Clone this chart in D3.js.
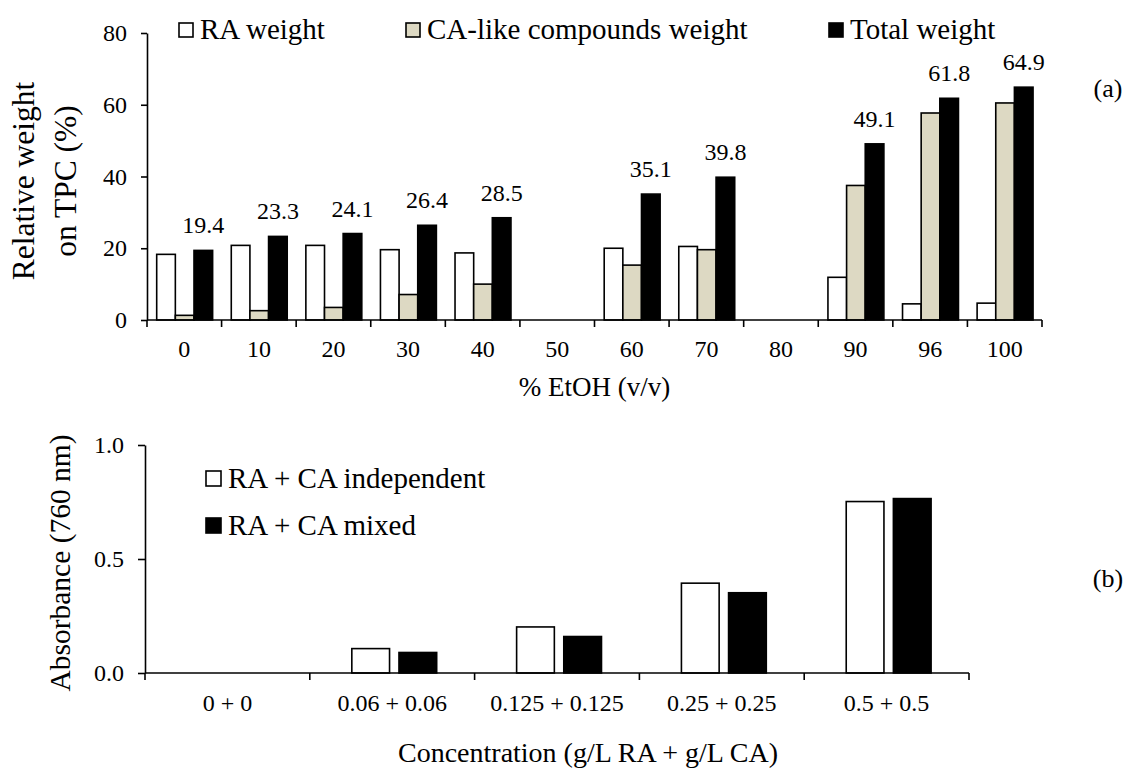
<!DOCTYPE html>
<html>
<head>
<meta charset="utf-8">
<script src="https://cdn.jsdelivr.net/npm/d3@7"></script>
<style>
  html, body { margin: 0; padding: 0; background: #fff; }
  svg { display: block; }
  svg text { font-family: "Liberation Serif", "Tinos", "Times New Roman", "DejaVu Serif", serif !important; fill: #000; }
</style>
</head>
<body>
<svg id="chart" width="1136" height="769" font-family="Liberation Serif, Tinos, Times New Roman, DejaVu Serif, serif"></svg>
<script>
// ---------- Data: panel (a) ----------
const etohCats    = ["0","10","20","30","40","50","60","70","80","90","96","100"];
const raWeight    = [18.3, 20.8, 20.8, 19.6, 18.7, null, 20.0, 20.5, null, 11.9, 4.5, 4.7];
const caWeight    = [1.3, 2.6, 3.5, 7.1, 10.0, null, 15.3, 19.6, null, 37.5, 57.7, 60.5];
const totalWeight = [19.4, 23.3, 24.1, 26.4, 28.5, null, 35.1, 39.8, null, 49.1, 61.8, 64.9];
const topYTicks   = [0, 20, 40, 60, 80];
const topSeries   = ["RA weight", "CA-like compounds weight", "Total weight"];
const topColors   = ["#ffffff", "#ddd9c3", "#000000"];

// ---------- Data: panel (b) ----------
const concCats    = ["0 + 0", "0.06 + 0.06", "0.125 + 0.125", "0.25 + 0.25", "0.5 + 0.5"];
const independent = [0, 0.107, 0.202, 0.394, 0.752];
const mixed       = [0, 0.090, 0.160, 0.352, 0.765];
const botYTicks   = [0, 0.5, 1.0];
const botSeries   = ["RA + CA independent", "RA + CA mixed"];
const botColors   = ["#ffffff", "#000000"];

const FONT = "Liberation Serif, Tinos, Times New Roman, DejaVu Serif, serif";
const svg = d3.select("#chart");
const SW = 1.6;

// ================= Panel (a) =================
{
  const x = d3.scaleBand().domain(etohCats).range([147, 1042]).padding(0);
  const y = d3.scaleLinear().domain([0, 80]).range([320, 33]);
  const bw = x.bandwidth();
  const inner = d3.scaleBand().domain(topSeries).range([bw * 0.13, bw * 0.88]).padding(0);
  const seriesVals = [raWeight, caWeight, totalWeight];

  const g = svg.append("g");
  topSeries.forEach((s, si) => {
    g.append("g").selectAll("rect")
      .data(etohCats.map((c, i) => ({ c, v: seriesVals[si][i] })).filter(d => d.v != null))
      .join("rect")
      .attr("x", d => x(d.c) + inner(s))
      .attr("y", d => y(d.v))
      .attr("width", inner.bandwidth())
      .attr("height", d => y(0) - y(d.v))
      .attr("fill", topColors[si])
      .attr("stroke", "#000")
      .attr("stroke-width", SW);
  });

  g.append("g").selectAll("text")
    .data(etohCats.map((c, i) => ({ c, v: totalWeight[i] })).filter(d => d.v != null))
    .join("text")
    .attr("x", d => x(d.c) + inner("Total weight") + inner.bandwidth() / 2)
    .attr("y", d => y(d.v) - 17)
    .attr("text-anchor", "middle")
    .style("font-size", "24px")
    .text(d => d.v.toFixed(1));

  const ya = svg.append("g").attr("transform", "translate(147,0)")
    .call(d3.axisLeft(y).tickValues(topYTicks).tickFormat(d3.format("d")).tickSize(6).tickSizeOuter(0).tickPadding(14))
    .attr("font-family", FONT);
  ya.select(".domain").attr("stroke-width", SW);
  ya.selectAll(".tick line").attr("stroke-width", SW);
  ya.selectAll(".tick text").style("font-size", "24px");

  const xa = svg.append("g");
  xa.append("line").attr("x1", x.range()[0]).attr("x2", x.range()[1])
    .attr("y1", y(0)).attr("y2", y(0)).attr("stroke", "#000").attr("stroke-width", SW);
  const bounds = etohCats.map(c => x(c)).concat([x(etohCats[etohCats.length - 1]) + bw]);
  xa.selectAll("line.tk").data(bounds).join("line").attr("class", "tk")
    .attr("x1", d => d).attr("x2", d => d).attr("y1", y(0)).attr("y2", y(0) + 7)
    .attr("stroke", "#000").attr("stroke-width", SW);
  xa.selectAll("text").data(etohCats).join("text")
    .attr("x", d => x(d) + bw / 2).attr("y", 357)
    .attr("text-anchor", "middle").style("font-size", "24px").text(d => d);

  svg.append("text").attr("x", 594.5).attr("y", 396).attr("text-anchor", "middle")
    .style("font-size", "27px").text("% EtOH (v/v)");

  svg.append("text").attr("transform", "translate(34,181) rotate(-90)").attr("text-anchor", "middle")
    .style("font-size", "31.5px").text("Relative weight");
  svg.append("text").attr("transform", "translate(76,181) rotate(-90)").attr("text-anchor", "middle")
    .style("font-size", "31.5px").text("on TPC (%)");

  const legX = [179, 406, 829];
  topSeries.forEach((s, i) => {
    svg.append("rect").attr("x", legX[i]).attr("y", 23).attr("width", 14).attr("height", 14)
      .attr("fill", topColors[i]).attr("stroke", "#000").attr("stroke-width", SW);
    svg.append("text").attr("x", legX[i] + 21).attr("y", 39).style("font-size", "29px").text(s);
  });

  svg.append("text").attr("x", 1108).attr("y", 97).attr("text-anchor", "middle")
    .style("font-size", "26px").text("(a)");
}

// ================= Panel (b) =================
{
  const x = d3.scaleBand().domain(concCats).range([145, 969]).padding(0);
  const y = d3.scaleLinear().domain([0, 1]).range([673, 445]);
  const bw = x.bandwidth();
  const inner = d3.scaleBand().domain(botSeries).range([bw * 0.255, bw * 0.77]).paddingInner(0.2).paddingOuter(0);
  const seriesVals = [independent, mixed];

  const g = svg.append("g");
  botSeries.forEach((s, si) => {
    g.append("g").selectAll("rect")
      .data(concCats.map((c, i) => ({ c, v: seriesVals[si][i] })).filter(d => d.v > 0))
      .join("rect")
      .attr("x", d => x(d.c) + inner(s))
      .attr("y", d => y(d.v))
      .attr("width", inner.bandwidth())
      .attr("height", d => y(0) - y(d.v))
      .attr("fill", botColors[si])
      .attr("stroke", "#000")
      .attr("stroke-width", SW);
  });

  const ya = svg.append("g").attr("transform", "translate(145,0)")
    .call(d3.axisLeft(y).tickValues(botYTicks).tickFormat(d3.format(".1f")).tickSize(7).tickSizeOuter(0).tickPadding(14))
    .attr("font-family", FONT);
  ya.select(".domain").attr("stroke-width", SW);
  ya.selectAll(".tick line").attr("stroke-width", SW);
  ya.selectAll(".tick text").style("font-size", "24px");

  const xa = svg.append("g");
  xa.append("line").attr("x1", x.range()[0]).attr("x2", x.range()[1])
    .attr("y1", y(0)).attr("y2", y(0)).attr("stroke", "#000").attr("stroke-width", SW);
  const bounds = concCats.map(c => x(c)).concat([x(concCats[concCats.length - 1]) + bw]);
  xa.selectAll("line.tk").data(bounds).join("line").attr("class", "tk")
    .attr("x1", d => d).attr("x2", d => d).attr("y1", y(0)).attr("y2", y(0) + 7)
    .attr("stroke", "#000").attr("stroke-width", SW);
  xa.selectAll("text").data(concCats).join("text")
    .attr("x", d => x(d) + bw / 2).attr("y", 711)
    .attr("text-anchor", "middle").style("font-size", "24px").text(d => d);

  svg.append("text").attr("x", 588).attr("y", 762).attr("text-anchor", "middle")
    .style("font-size", "28px").text("Concentration (g/L RA + g/L CA)");

  svg.append("text").attr("transform", "translate(70,563) rotate(-90)").attr("text-anchor", "middle")
    .style("font-size", "29.5px").text("Absorbance (760 nm)");

  const legY = [471, 518];
  botSeries.forEach((s, i) => {
    svg.append("rect").attr("x", 206).attr("y", legY[i]).attr("width", 15).attr("height", 15)
      .attr("fill", botColors[i]).attr("stroke", "#000").attr("stroke-width", SW);
    svg.append("text").attr("x", 228).attr("y", legY[i] + 17).style("font-size", "29px").text(s);
  });

  svg.append("text").attr("x", 1108).attr("y", 587).attr("text-anchor", "middle")
    .style("font-size", "26px").text("(b)");
}
</script>
</body>
</html>
